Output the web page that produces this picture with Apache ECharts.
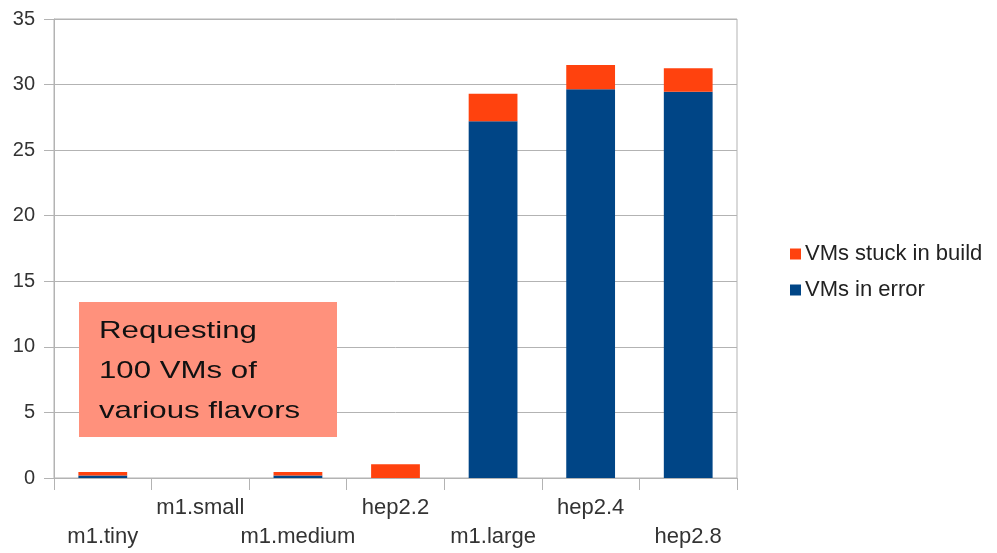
<!DOCTYPE html>
<html>
<head>
<meta charset="utf-8">
<script src="https://cdn.jsdelivr.net/npm/echarts@6/dist/echarts.min.js"></script>
<style>
  html, body { margin: 0; padding: 0; background: #ffffff; }
  #chart { width: 997px; height: 553px; }
</style>
</head>
<body>
<div id="chart"></div>
<script>
// Flavors requested
const categories = ['m1.tiny', 'm1.small', 'm1.medium', 'hep2.2', 'm1.large', 'hep2.4', 'hep2.8'];
// Counts per flavor (out of 100 requested VMs)
const vmsInError = [0.2, 0, 0.2, 0, 27.2, 29.65, 29.45];
const vmsStuckInBuild = [0.25, 0, 0.25, 1.05, 2.1, 1.85, 1.8];
// Value axis ticks
const yTicks = [0, 5, 10, 15, 20, 25, 30, 35];

const FONT = '"Liberation Sans", Arial, sans-serif';
const GRID_COLOR = '#b3b3b3';

const chart = echarts.init(document.getElementById('chart'), null, { renderer: 'canvas' });

chart.setOption({
  animation: false,
  backgroundColor: '#ffffff',
  grid: {
    left: 54, right: 260, top: 19, bottom: 75,
    show: true, borderColor: GRID_COLOR, borderWidth: 1, backgroundColor: 'transparent'
  },
  legend: {
    orient: 'vertical',
    left: 785, top: 238,
    itemWidth: 11, itemHeight: 11, itemGap: 14,
    icon: 'rect',
    data: ['VMs stuck in build', 'VMs in error'],
    textStyle: { fontFamily: FONT, fontSize: 22, color: '#222', padding: [0, 0, 0, -1] }
  },
  xAxis: {
    type: 'category',
    data: categories,
    axisLine: { lineStyle: { color: GRID_COLOR } },
    axisTick: { show: true, length: 12, alignWithLabel: false, lineStyle: { color: GRID_COLOR } },
    axisLabel: {
      interval: 0,
      margin: 15,
      fontFamily: FONT,
      fontSize: 22,
      color: '#333',
      lineHeight: 29,
      formatter: (value, index) => (index % 2 === 0 ? '\n' + value : value)
    },
    splitLine: { show: false }
  },
  yAxis: {
    type: 'value',
    min: yTicks[0],
    max: yTicks[yTicks.length - 1],
    interval: yTicks[1] - yTicks[0],
    axisLine: { show: true, lineStyle: { color: GRID_COLOR } },
    axisTick: { show: true, length: 10, lineStyle: { color: GRID_COLOR } },
    axisLabel: { margin: 19, fontFamily: FONT, fontSize: 20, color: '#333' },
    splitLine: { show: true, lineStyle: { color: GRID_COLOR, width: 1 } }
  },
  series: [
    {
      name: 'VMs in error',
      type: 'bar',
      stack: 'vms',
      barWidth: '50%',
      itemStyle: { color: '#004586' },
      data: vmsInError
    },
    {
      name: 'VMs stuck in build',
      type: 'bar',
      stack: 'vms',
      barWidth: '50%',
      itemStyle: { color: '#ff420e' },
      data: vmsStuckInBuild
    }
  ],
  graphic: [
    {
      type: 'rect',
      shape: { x: 79, y: 302, width: 258, height: 135 },
      style: { fill: '#ff917c' },
      z: 100
    },
    {
      type: 'text',
      x: 99, y: 311,
      scaleX: 1.3,
      originX: 0,
      z: 101,
      style: {
        text: 'Requesting\n100 VMs of\nvarious flavors',
        font: '24px "Liberation Sans", Arial, sans-serif',
        lineHeight: 40,
        fill: '#111',
        verticalAlign: 'top',
        align: 'left'
      }
    }
  ]
});
</script>
</body>
</html>
